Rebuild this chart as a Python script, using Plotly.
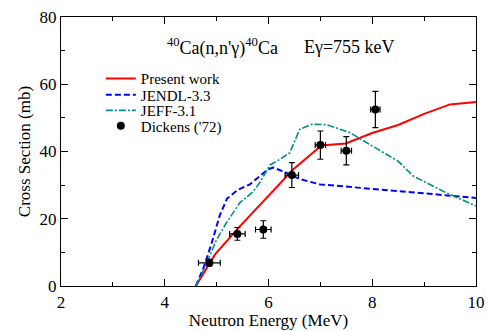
import plotly.graph_objects as go

# Present work (evaluated cross section)
present_e = [4.6, 4.97, 5.42, 6.0, 6.48, 7.02, 7.49, 8.0, 8.5, 9.0, 9.5, 10.0]
present_xs = [0.0, 9.4, 17.3, 26.8, 34.7, 41.8, 42.4, 45.5, 47.9, 51.2, 54.0, 54.7]

# JENDL-3.3
jendl_e = [4.6, 4.75, 4.9, 5.06, 5.2, 5.42, 5.64, 5.83, 5.99, 6.09, 6.3, 6.6, 7.0, 8.15, 9.0, 10.0]
jendl_xs = [0.0, 5.5, 12.5, 21.0, 26.0, 28.7, 30.2, 32.7, 34.7, 35.2, 34.0, 31.8, 30.2, 28.7, 27.6, 26.2]

# JEFF-3.1
jeff_e = [4.6, 4.8, 5.0, 5.19, 5.45, 5.7, 5.83, 6.03, 6.2, 6.41, 6.6, 6.83, 7.12, 7.57, 7.95, 8.5, 8.79, 9.43, 10.0]
jeff_xs = [0.0, 6.5, 13.8, 18.8, 24.8, 28.0, 30.7, 36.0, 37.5, 39.6, 46.6, 48.1, 48.0, 45.6, 42.1, 37.1, 32.7, 27.7, 23.8]

# Dickens ('72) measurements
dick_e = [4.86, 5.40, 5.90, 6.45, 7.00, 7.50, 8.06]
dick_xs = [6.9, 15.5, 16.8, 33.0, 41.9, 40.2, 52.5]
dick_de = [0.21, 0.15, 0.15, 0.13, 0.10, 0.10, 0.09]
dick_dxs = [1.0, 1.9, 2.6, 3.7, 4.2, 4.2, 5.4]

FONT = "Liberation Serif"

fig = go.Figure()
# each legend entry sits in its own small legend box so the rows can be packed tightly
fig.add_trace(go.Scatter(x=present_e, y=present_xs, mode="lines", name="Present work",
                         line=dict(color="#ff0000", width=2), legend="legend"))
fig.add_trace(go.Scatter(x=jendl_e, y=jendl_xs, mode="lines", name="JENDL-3.3",
                         line=dict(color="#0000ff", width=2, dash="6px,3px"), legend="legend2"))
fig.add_trace(go.Scatter(x=jeff_e, y=jeff_xs, mode="lines", name="JEFF-3.1",
                         line=dict(color="#008b8b", width=1.6, dash="7px,2px,2px,2px"), legend="legend3"))
fig.add_trace(go.Scatter(x=dick_e, y=dick_xs, mode="markers", name="Dickens ('72)",
                         marker=dict(color="black", size=8),
                         error_x=dict(type="data", array=dick_de, color="black", thickness=1.2, width=3),
                         error_y=dict(type="data", array=dick_dxs, color="black", thickness=1.2, width=3),
                         legend="legend4"))

axis_common = dict(
    showline=True, linecolor="black", linewidth=1.2, mirror="allticks",
    ticks="inside", ticklen=7, tickwidth=1, tickcolor="black",
    showgrid=False, zeroline=False, automargin=False,
    tickfont=dict(family=FONT, size=17, color="black"),
)

fig.update_xaxes(range=[2, 10], dtick=2, tick0=2,
                 minor=dict(dtick=1, ticks="inside", ticklen=4, tickcolor="black", showgrid=False),
                 title=dict(text="Neutron Energy (MeV)",
                            font=dict(family=FONT, size=17, color="black"), standoff=2),
                 **axis_common)
fig.update_yaxes(range=[0, 80], dtick=20,
                 minor=dict(dtick=10, ticks="inside", ticklen=4, tickcolor="black", showgrid=False),
                 title=dict(text="Cross Section (mb)",
                            font=dict(family=FONT, size=17, color="black"), standoff=4),
                 **axis_common)

fig.add_annotation(x=0.2506, y=0.89, xref="paper", yref="paper", showarrow=False,
                   xanchor="left", yanchor="middle",
                   text="<sup>40</sup>Ca(n,n'γ)<sup>40</sup>Ca",
                   font=dict(family=FONT, size=18, color="black"))
fig.add_annotation(x=0.581, y=0.89, xref="paper", yref="paper", showarrow=False,
                   xanchor="left", yanchor="middle",
                   text="Eγ=755 keV",
                   font=dict(family=FONT, size=18, color="black"))

leg = dict(x=0.096, xanchor="left", yanchor="middle", bgcolor="rgba(0,0,0,0)",
           borderwidth=0, itemwidth=30, font=dict(family=FONT, size=15, color="black"))

fig.update_layout(
    width=488, height=331,
    font=dict(family=FONT, color="black"),
    margin=dict(l=61, r=12, t=17, b=45),
    paper_bgcolor="white", plot_bgcolor="white",
    legend=dict(y=0.770, **leg),
    legend2=dict(y=0.710, **leg),
    legend3=dict(y=0.652, **leg),
    legend4=dict(y=0.595, **leg),
    showlegend=True,
)

fig.write_html("out.html")
